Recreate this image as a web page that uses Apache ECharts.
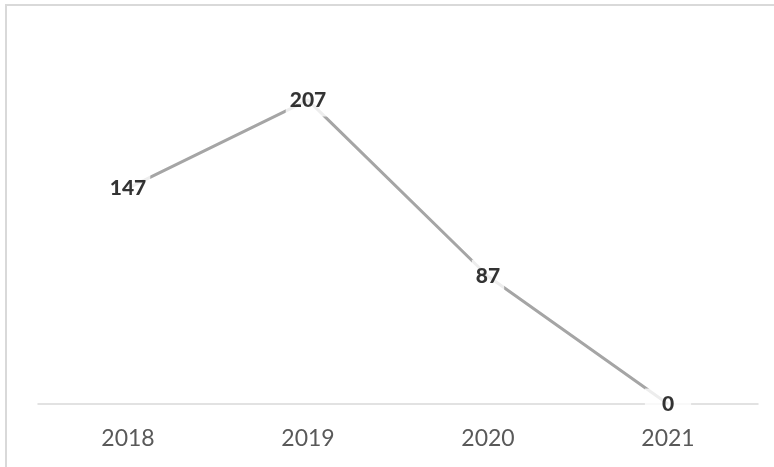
<!DOCTYPE html>
<html>
<head>
<meta charset="utf-8">
<script src="https://cdn.jsdelivr.net/npm/echarts@6/dist/echarts.min.js"></script>
<style>html,body{margin:0;padding:0;background:#fff;}#c{width:774px;height:467px;}</style>
</head>
<body>
<div id="c"></div>
<script>
var categories = ['2018', '2019', '2020', '2021'];
var values = [147, 207, 87, 0];

var labelData = values.map(function (v) {
  var item = {value: v};
  if (v === 0) {
    item.label = {padding: [5, 17]};
  }
  return item;
});

var chart = echarts.init(document.getElementById('c'), null, {renderer: 'canvas'});
chart.setOption({
  animation: false,
  backgroundColor: '#fff',
  graphic: [{
    type: 'rect',
    shape: {x: 6, y: 5, width: 800, height: 500},
    style: {fill: 'none', stroke: '#d9d9d9', lineWidth: 2},
    silent: true,
    z: -1
  }],
  grid: {left: 38, right: 16, top: 37, bottom: 63},
  xAxis: {
    type: 'category',
    data: categories,
    boundaryGap: true,
    axisLine: {lineStyle: {color: '#d9d9d9', width: 1.5}},
    axisTick: {show: false},
    axisLabel: {color: '#595959', fontSize: 23, fontFamily: 'Lato, "Open Sans", sans-serif', margin: 23}
  },
  yAxis: {
    type: 'value',
    min: 0,
    max: 250,
    show: false,
    splitLine: {show: false}
  },
  series: [{
    type: 'line',
    data: values,
    symbol: 'none',
    lineStyle: {color: '#a5a5a5', width: 3},
    z: 2
  }, {
    type: 'scatter',
    data: labelData,
    symbolSize: 1,
    itemStyle: {color: 'rgba(255,255,255,0)'},
    label: {
      show: true,
      position: 'inside',
      color: '#000',
      fontWeight: 900,
      fontSize: 21,
      fontFamily: 'Lato, "Open Sans", sans-serif',
      backgroundColor: '#fff',
      padding: [6, 4]
    },
    z: 5
  }]
});
</script>
</body>
</html>
